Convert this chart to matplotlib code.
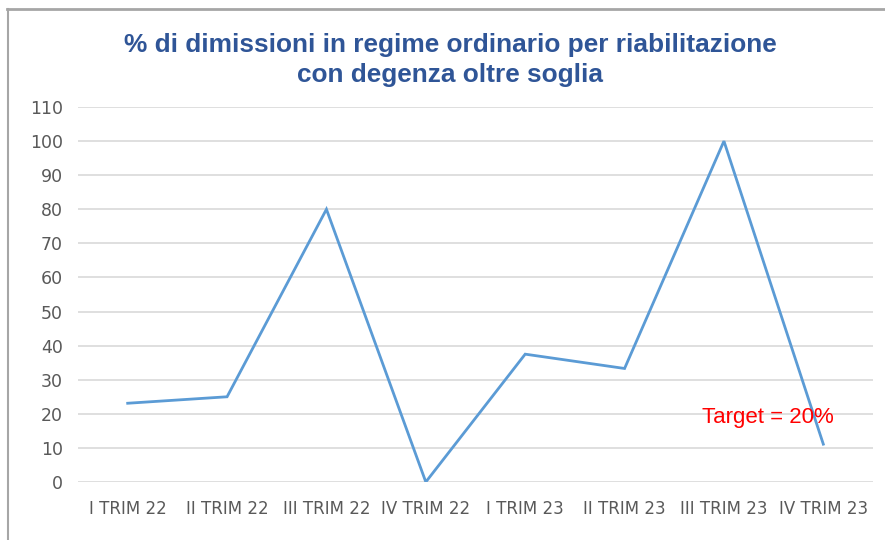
import matplotlib
matplotlib.use("Agg")
import matplotlib.pyplot as plt
from matplotlib.lines import Line2D

# dati
trimestri = ["I TRIM 22", "II TRIM 22", "III TRIM 22", "IV TRIM 22",
             "I TRIM 23", "II TRIM 23", "III TRIM 23", "IV TRIM 23"]
percentuali = [23.1, 25.0, 80.0, 0.0, 37.5, 33.3, 100.0, 11.1]
y_ticks = list(range(0, 111, 10))

title = "% di dimissioni in regime ordinario per riabilitazione\ncon degenza oltre soglia"
target_label = "Target = 20%"

fig = plt.figure(figsize=(8.85, 5.4), dpi=100)
ax = fig.add_axes([78 / 885, 58 / 540, 795 / 885, 375 / 540])

x = list(range(len(trimestri)))
ax.plot(x, percentuali, color="#5B9BD5", linewidth=2.0, solid_joinstyle="miter")

ax.set_xlim(-0.5, len(trimestri) - 0.5)
ax.set_ylim(0, 110)
ax.set_yticks(y_ticks)
ax.set_xticks(x)
ax.set_xticklabels(trimestri)
ax.yaxis.grid(True, color="#D9D9D9", linewidth=1.2)
ax.set_axisbelow(True)
for s in ax.spines.values():
    s.set_visible(False)
ax.tick_params(length=0, labelsize=12.5, colors="#595959")
ax.tick_params(axis="y", pad=11)
ax.tick_params(axis="x", pad=13, labelsize=12)

ax.text(6.44, 18.8, target_label, color="#FF0000", fontsize=16,
        ha="center", va="center", family="Liberation Sans")

fig.text(0.509, 1 - 87 / 540, title, ha="center", va="bottom", fontsize=18.9,
         fontweight="bold", color="#2F5597", family="Liberation Sans",
         linespacing=1.32)

# cornice in alto e a sinistra
fig.add_artist(Line2D([7 / 885, 1], [1 - 8.5 / 540, 1 - 8.5 / 540],
                      transform=fig.transFigure, color="#A6A6A6", linewidth=2))
fig.add_artist(Line2D([7.5 / 885, 7.5 / 885], [0, 1 - 8.5 / 540],
                      transform=fig.transFigure, color="#A6A6A6", linewidth=1.5))

fig.savefig("out.png", dpi=100)
